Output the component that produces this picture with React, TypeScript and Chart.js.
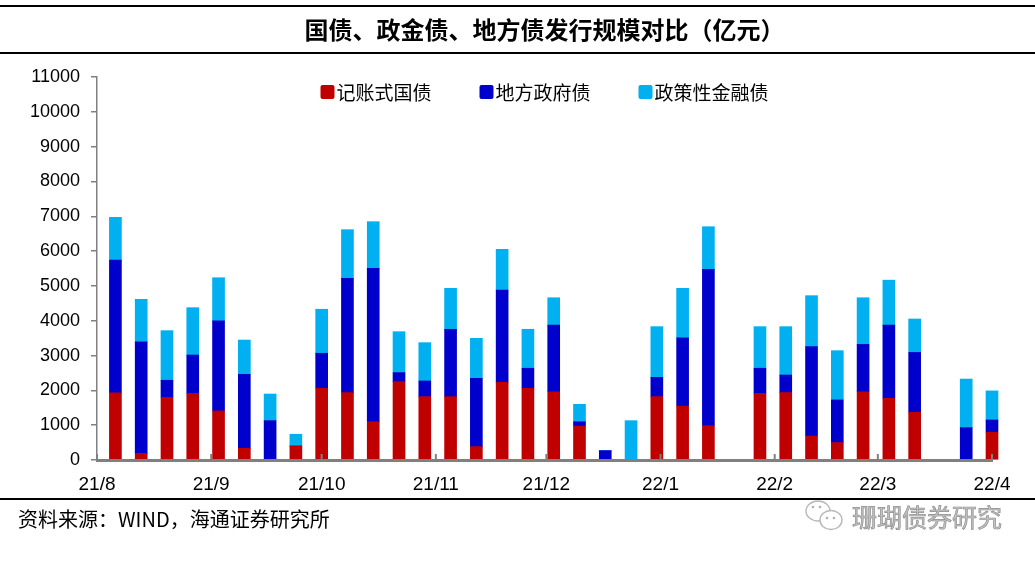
import React, { useEffect, useRef } from "react";
import { Chart, registerables } from "chart.js";

Chart.register(...registerables);

// ---------- data ----------
const titleText = "国债、政金债、地方债发行规模对比（亿元）";
const sourceText = "资料来源：WIND，海通证券研究所";
const watermarkText = "珊瑚债券研究";

const seriesNames = ["记账式国债", "地方政府债", "政策性金融债"];
const seriesColors = ["#C00000", "#0000CC", "#00B0F0"];

const weekDates = [
  "2021-08-06", "2021-08-13", "2021-08-20", "2021-08-27",
  "2021-09-03", "2021-09-10", "2021-09-17", "2021-09-24",
  "2021-10-01", "2021-10-08", "2021-10-15", "2021-10-22", "2021-10-29",
  "2021-11-05", "2021-11-12", "2021-11-19", "2021-11-26",
  "2021-12-03", "2021-12-10", "2021-12-17", "2021-12-24", "2021-12-31",
  "2022-01-07", "2022-01-14", "2022-01-28",
  "2022-02-04", "2022-02-11", "2022-02-18", "2022-02-25",
  "2022-03-04", "2022-03-11", "2022-03-25", "2022-04-01",
];

const treasuryBonds = [
  1930, 190, 1800, 1915,
  1410, 335, 0, 400,
  2060, 1935, 1100, 2250, 1820,
  1820, 385, 2230, 2060,
  1960, 975, 0, 0, 1820,
  1550, 985, 1915,
  1935, 690, 500, 1960,
  1770, 1370, 0, 795,
];

const localGovBonds = [
  3810, 3205, 490, 1100,
  2590, 2125, 1130, 0,
  1005, 3285, 4405, 260, 450,
  1935, 1960, 2650, 575,
  1915, 125, 270, 0, 555,
  1960, 4490, 720,
  505, 2565, 1225, 1360,
  2105, 1720, 930, 355,
];

const policyBankBonds = [
  1230, 1220, 1425, 1360,
  1235, 985, 765, 340,
  1265, 1395, 1340, 1175, 1100,
  1175, 1150, 1170, 1120,
  785, 500, 0, 1130, 1455,
  1420, 1225, 1195,
  1390, 1465, 1415, 1340,
  1290, 960, 1395, 835,
];

const monthStarts = [
  "2021-08-01", "2021-09-01", "2021-10-01", "2021-11-01", "2021-12-01",
  "2022-01-01", "2022-02-01", "2022-03-01", "2022-04-01",
];
const monthLabels = ["21/8", "21/9", "21/10", "21/11", "21/12", "22/1", "22/2", "22/3", "22/4"];

const yMin = 0;
const yMax = 11000;
const yStep = 1000;

// ---------- helpers ----------
const DAY = 86400000;
const origin = Date.parse(monthStarts[0]);
const toDay = (d: string) => Math.round((Date.parse(d) - origin) / DAY);
const weekDays = weekDates.map(toDay);
const monthDays = monthStarts.map(toDay);

const LATIN = "'Liberation Sans', Arial, sans-serif";
const CJK = "'Noto Sans CJK SC', 'Noto Sans', sans-serif";
const AXIS_GRAY = "#808080";

const decorPlugin = {
  id: "decor",
  afterDatasetsDraw(chart: any) {
    const { ctx, chartArea } = chart;
    const xs = chart.scales.x;
    ctx.save();
    ctx.strokeStyle = AXIS_GRAY;
    ctx.lineWidth = 3;
    ctx.beginPath();
    ctx.moveTo(chartArea.left - 1, chartArea.bottom + 0.5);
    ctx.lineTo(chartArea.right + 1, chartArea.bottom + 0.5);
    ctx.stroke();
    ctx.lineWidth = 2;
    xs.ticks.forEach((t: any) => {
      const px = xs.getPixelForValue(t.value);
      ctx.beginPath();
      ctx.moveTo(px, chartArea.bottom);
      ctx.lineTo(px, chartArea.bottom - 6);
      ctx.stroke();
    });
    ctx.restore();
  },
  afterDraw(chart: any) {
    const { ctx, chartArea, width } = chart;
    const cx = (chartArea.left + chartArea.right) / 2;
    ctx.save();

    // rules
    ctx.strokeStyle = "#000";
    ctx.lineWidth = 2;
    [6, 53, 499].forEach((y) => {
      ctx.beginPath();
      ctx.moveTo(0, y);
      ctx.lineTo(width, y);
      ctx.stroke();
    });

    // title
    ctx.fillStyle = "#000";
    ctx.font = `bold 24px ${CJK}`;
    ctx.textAlign = "center";
    ctx.textBaseline = "middle";
    ctx.fillText(titleText, cx, 30);

    // legend
    ctx.font = `19px ${CJK}`;
    ctx.textAlign = "left";
    const box = 14;
    const gapText = 2;
    const gapItem = 48;
    const items = chart.data.datasets.map((ds: any) => ({
      label: ds.label,
      color: ds.backgroundColor,
      w: box + gapText + ctx.measureText(ds.label).width,
    }));
    const total = items.reduce((s: number, it: any) => s + it.w, 0) + gapItem * (items.length - 1);
    let lx = cx - total / 2;
    const ly = 92;
    items.forEach((it: any) => {
      ctx.fillStyle = it.color;
      ctx.beginPath();
      (ctx as any).roundRect(lx, ly - box / 2, box, box, 2);
      ctx.fill();
      ctx.fillStyle = "#000";
      ctx.fillText(it.label, lx + box + gapText, ly + 1);
      lx += it.w + gapItem;
    });

    // source
    ctx.font = `20px ${CJK}`;
    ctx.fillStyle = "#000";
    ctx.fillText(sourceText, 18, 519);

    // watermark icon
    ctx.strokeStyle = "#b8b8b8";
    ctx.fillStyle = "#fff";
    ctx.lineWidth = 1.4;
    ctx.beginPath();
    ctx.ellipse(818, 511, 12, 10, 0, 0, Math.PI * 2);
    ctx.stroke();
    ctx.beginPath();
    ctx.ellipse(831, 520, 11, 9.5, 0, 0, Math.PI * 2);
    ctx.fill();
    ctx.stroke();
    ctx.fillStyle = "#b0b0b0";
    [[813, 507], [820, 507], [827, 518], [834, 518]].forEach(([x, y]) => {
      ctx.beginPath();
      ctx.arc(x, y, 1.3, 0, Math.PI * 2);
      ctx.fill();
    });

    // watermark text
    ctx.font = `25px ${CJK}`;
    ctx.fillStyle = "#c4c4c4";
    ctx.strokeStyle = "#8e8e8e";
    ctx.lineWidth = 0.7;
    ctx.fillText(watermarkText, 852, 517);
    ctx.strokeText(watermarkText, 852, 517);

    ctx.restore();
  },
};

export default function App() {
  const ref = useRef<HTMLCanvasElement>(null);

  useEffect(() => {
    document.body.style.margin = "0";
    const series = [treasuryBonds, localGovBonds, policyBankBonds];
    const chart = new Chart(ref.current as HTMLCanvasElement, {
      type: "bar",
      data: {
        datasets: series.map((vals, i) => ({
          label: seriesNames[i],
          data: vals.map((v, j) => ({ x: weekDays[j], y: v })),
          backgroundColor: seriesColors[i],
          borderWidth: 0,
          barThickness: 12,
          clip: false,
        })),
      },
      options: {
        responsive: false,
        animation: false,
        events: [],
        layout: { padding: { top: 77, right: 43, bottom: 0, left: 0 } },
        plugins: {
          legend: { display: false },
          title: { display: false },
          tooltip: { enabled: false },
        },
        scales: {
          x: {
            type: "linear",
            min: monthDays[0],
            max: monthDays[monthDays.length - 1],
            offset: false,
            stacked: true,
            afterBuildTicks: (scale: any) => {
              scale.ticks = monthDays.map((v) => ({ value: v }));
            },
            afterFit: (scale: any) => {
              scale.height = 101;
            },
            grid: { display: false, drawTicks: false, offset: false },
            border: { display: false },
            ticks: {
              autoSkip: false,
              maxRotation: 0,
              padding: 13,
              color: "#000",
              font: { family: LATIN, size: 19 },
              callback: (_v: any, i: number) => monthLabels[i],
            },
          },
          y: {
            stacked: true,
            min: yMin,
            max: yMax,
            afterFit: (scale: any) => {
              scale.width = 97;
            },
            ticks: {
              stepSize: yStep,
              padding: 11,
              color: "#000",
              font: { family: LATIN, size: 18 },
              callback: (v: any) => String(v),
            },
            grid: { drawOnChartArea: false, tickLength: 6, color: AXIS_GRAY, lineWidth: 1.5 },
            border: { color: AXIS_GRAY, width: 1.5 },
          },
        },
      } as any,
      plugins: [decorPlugin],
    });
    return () => chart.destroy();
  }, []);

  return (
    <div style={{ width: 1035, height: 561, position: "relative", background: "#fff" }}>
      <canvas ref={ref} width={1035} height={561} style={{ display: "block", width: 1035, height: 561 }} />
    </div>
  );
}
